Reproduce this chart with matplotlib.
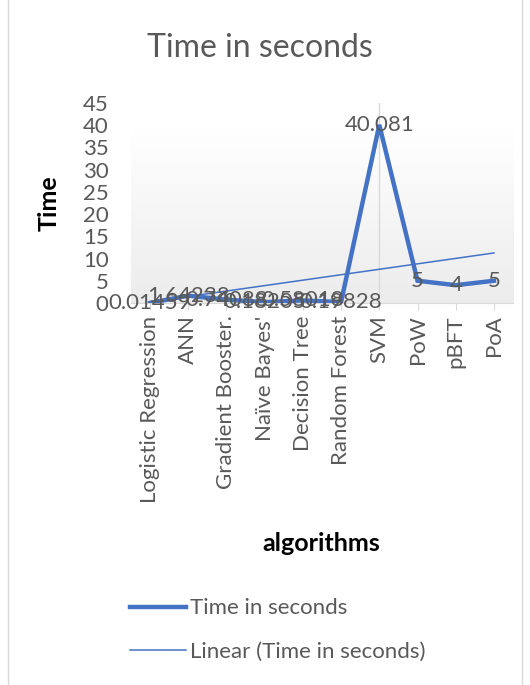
import numpy as np
import matplotlib
matplotlib.use("Agg")
import matplotlib.pyplot as plt
from matplotlib.patches import Rectangle

plt.rcParams['font.family'] = ['Lato', 'DejaVu Sans']

# data
algorithms = ['Logistic Regression', 'ANN', 'Gradient Booster.', "Naïve Bayes'",
              'Decision Tree', 'Random Forest', 'SVM', 'PoW', 'pBFT', 'PoA']
time_sec = [0.01459, 1.64238, 0.74088, 0.18205, 0.58018, 0.19828, 40.081, 5, 4, 5]
yticks = [0, 5, 10, 15, 20, 25, 30, 35, 40, 45]

grey = '#595959'
blue = '#4472C4'

fig = plt.figure(figsize=(5.3, 6.85), dpi=100)
ax = fig.add_axes([0.247, 0.5577, 0.721, 0.292])

x = np.arange(len(algorithms))

# gradient fill of the plot area
grad = np.linspace(0, 1, 256).reshape(-1, 1)
ax.imshow(grad, extent=[-0.5, len(x) - 0.5, 0, 39], aspect='auto',
          cmap=matplotlib.colors.LinearSegmentedColormap.from_list('bg', ['#ECECEC', '#FFFFFF']),
          origin='lower', zorder=0)
ax.axvline(6, color='#D9D9D9', lw=1, zorder=1)

ax.plot(x, time_sec, color=blue, lw=3.2, solid_joinstyle='miter', zorder=3, label='Time in seconds')

# linear trendline
k, b = np.polyfit(x, time_sec, 1)
ax.plot(x, k * x + b, color=blue, lw=1.1, zorder=2, label='Linear (Time in seconds)')

for xi, v in zip(x, time_sec):
    ax.text(xi, v, f'{v:g}', ha='center', va='center', fontsize=16, color=grey, zorder=4)

ax.set_xlim(-0.5, len(x) - 0.5)
ax.set_ylim(0, 45)
ax.set_yticks(yticks)
ax.set_xticks(x)
ax.set_xticklabels(algorithms, rotation=90, fontsize=16, color=grey)
ax.tick_params(axis='y', length=0, labelsize=16, labelcolor=grey, pad=16)
ax.tick_params(axis='x', length=5, color='#D9D9D9', pad=4)
for s in ['top', 'right', 'left']:
    ax.spines[s].set_visible(False)
ax.spines['bottom'].set_color('#D9D9D9')

ax.set_ylabel('Time', fontsize=18, fontweight='bold')
ax.yaxis.set_label_coords(-0.183, 0.5)
ax.set_xlabel('algorithms', fontsize=18, fontweight='bold')
ax.xaxis.set_label_coords(0.497, -1.145)
fig.text(0.49, 0.93, 'Time in seconds', ha='center', va='center', fontsize=23, color=grey)

leg = fig.legend(loc='center', frameon=False, fontsize=16, handlelength=2.5,
                 labelspacing=1.05, handletextpad=0.2, bbox_to_anchor=(0.525, 0.0803))
for t in leg.get_texts():
    t.set_color(grey)

fig.add_artist(Rectangle((0.015, -0.01), 0.97, 1.02, transform=fig.transFigure,
                         fill=False, edgecolor='#D9D9D9', lw=1))

fig.savefig('out.png', dpi=100)
